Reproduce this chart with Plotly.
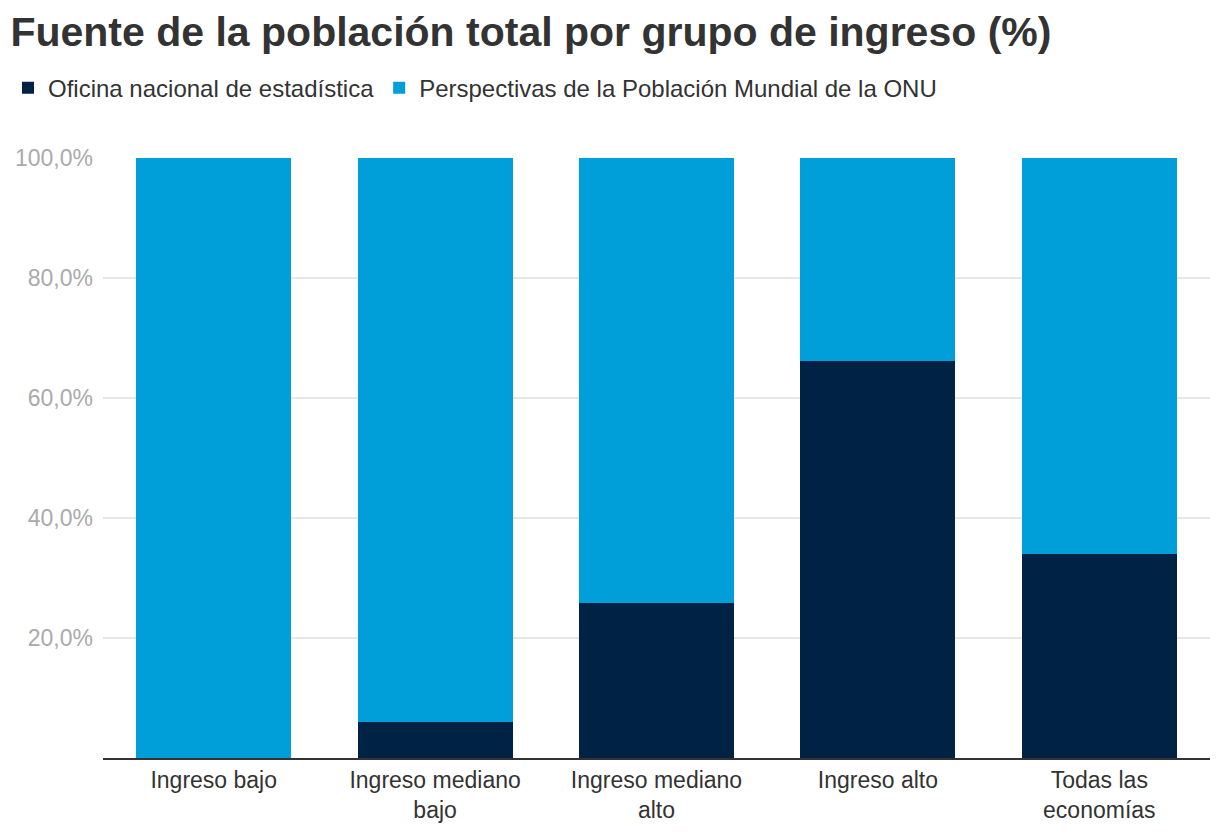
import plotly.graph_objects as go

categories = ["Ingreso bajo", "Ingreso mediano<br>bajo", "Ingreso mediano<br>alto", "Ingreso alto", "Todas las<br>economías"]
oficina = [0.0, 6.0, 25.8, 66.2, 34.0]
onu = [100.0, 94.0, 74.2, 33.8, 66.0]
y_ticks = [20, 40, 60, 80, 100]
y_tick_labels = ["20,0%", "40,0%", "60,0%", "80,0%", "100,0%"]

fig = go.Figure()
fig.add_trace(go.Bar(x=categories, y=oficina, name="Oficina nacional de estadística",
                     marker=dict(color="#002244", line=dict(width=0))))
fig.add_trace(go.Bar(x=categories, y=onu, name="Perspectivas de la Población Mundial de la ONU",
                     marker=dict(color="#009FDA", line=dict(width=0))))

fig.update_layout(
    barmode="stack",
    bargap=0.3,
    width=1220, height=834,
    margin=dict(l=95, r=18, t=150, b=84),
    paper_bgcolor="white", plot_bgcolor="white",
    font=dict(family="Liberation Sans, Arial, sans-serif", color="#333333", size=23),
    title=dict(text="<b>Fuente de la población total por grupo de ingreso (%)</b>",
               xref="container", x=0.002, xanchor="left",
               yref="container", y=0.972, yanchor="middle",
               font=dict(size=41, color="#333333")),
    legend=dict(orientation="h", xref="container", x=0.0, xanchor="left",
                yref="container", y=0.904, yanchor="middle",
                font=dict(size=24, color="#333333"), traceorder="normal",
                itemwidth=30),
    showlegend=True,
)
fig.update_yaxes(range=[0, 100], tickvals=y_ticks, ticktext=y_tick_labels,
                 showgrid=True, gridcolor="#e6e6e6", gridwidth=1.5, zeroline=False,
                 tickfont=dict(color="#aaaaaa", size=23), ticks="", showline=False,
                 ticklabelstandoff=9, automargin=False)
fig.update_xaxes(showline=True, linecolor="#333333", linewidth=2, ticks="",
                 tickfont=dict(color="#333333", size=23))

fig.write_html("out.html")
